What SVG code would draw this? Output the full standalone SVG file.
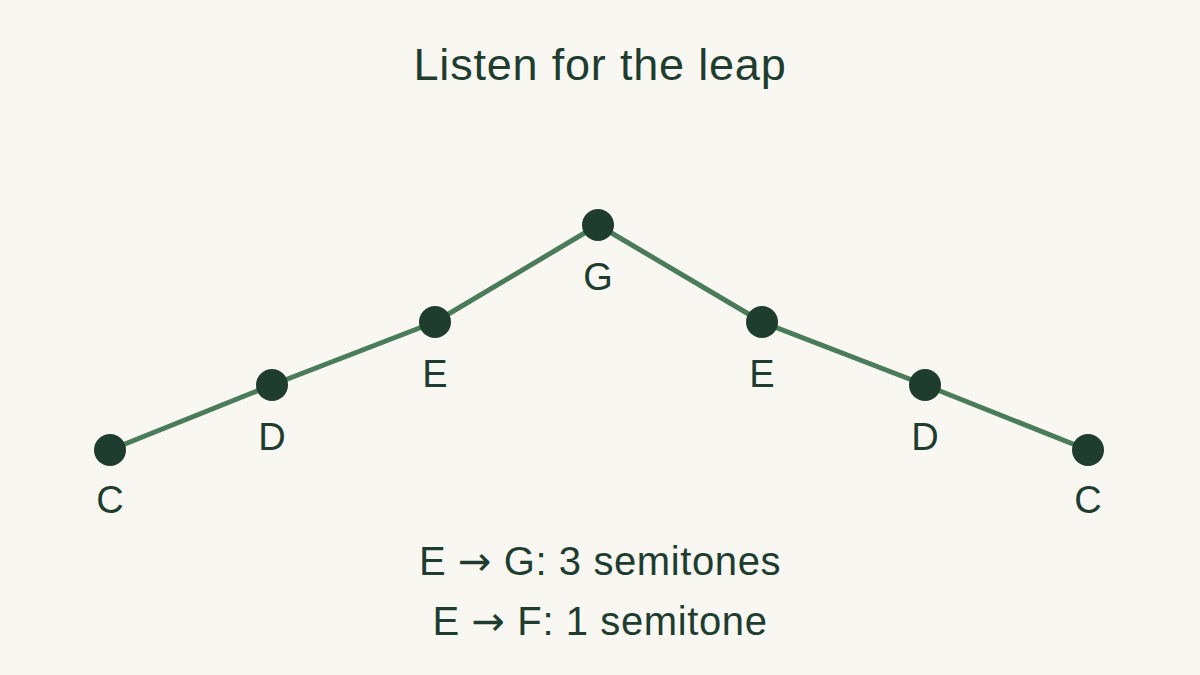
<svg xmlns="http://www.w3.org/2000/svg" width="1200" height="675" viewBox="0 0 1200 675">
<style>
text{font-family:"Liberation Sans",Arial,sans-serif;fill:#1e3d2f;text-anchor:middle}
.lbl{font-size:38px}
.big{font-size:40px;letter-spacing:0.6px}
.ar{font-family:"DejaVu Sans",sans-serif}
.dot{fill:#1e3d2f}
.ln{stroke:#4a7c59;stroke-width:5;fill:none;stroke-linejoin:round}
</style>
<rect width="1200" height="675" fill="#f9f7f2"/>
<text x="600" y="80" font-size="45" letter-spacing="0.8">Listen for the leap</text>
<g id="connectors">
<polyline class="ln" points="110,450 272,385 435,322 598,225 762,322 925,385 1088,450"/>
</g>
<g id="n1"><circle class="dot" cx="110" cy="450" r="16"/><text class="lbl" x="110" y="513">C</text></g>
<g id="n2"><circle class="dot" cx="272" cy="385" r="16"/><text class="lbl" x="272" y="450">D</text></g>
<g id="n3"><circle class="dot" cx="435" cy="322" r="16"/><text class="lbl" x="435" y="387">E</text></g>
<g id="n4"><circle class="dot" cx="598" cy="225" r="16"/><text class="lbl" x="598" y="290">G</text></g>
<g id="n5"><circle class="dot" cx="762" cy="322" r="16"/><text class="lbl" x="762" y="387">E</text></g>
<g id="n6"><circle class="dot" cx="925" cy="385" r="16"/><text class="lbl" x="925" y="450">D</text></g>
<g id="n7"><circle class="dot" cx="1088" cy="450" r="16"/><text class="lbl" x="1088" y="513">C</text></g>
<text class="big" x="600" y="575">E <tspan class="ar">→</tspan> G: 3 semitones</text>
<text class="big" x="600" y="635">E <tspan class="ar">→</tspan> F: 1 semitone</text>
</svg>
